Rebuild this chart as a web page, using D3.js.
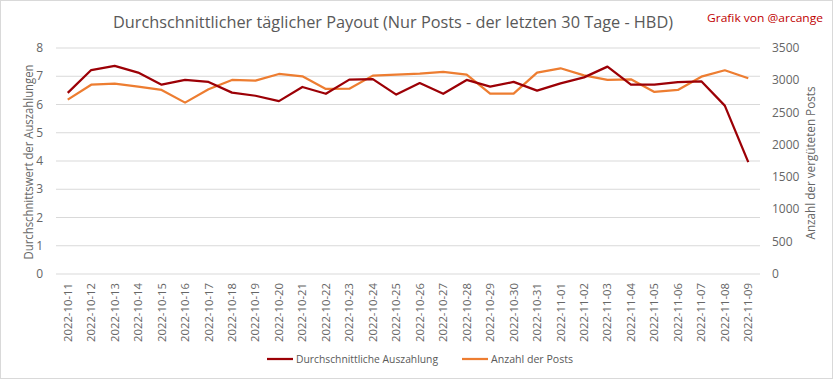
<!DOCTYPE html>
<html><head><meta charset="utf-8">
<script src="https://cdn.jsdelivr.net/npm/d3@7"></script>
<style>body{margin:0;background:#fff}svg{display:block}text{font-family:"Open Sans",sans-serif}</style>
</head><body><svg id="c" width="833" height="379"></svg>
<script>
const dates = ["2022-10-11","2022-10-12","2022-10-13","2022-10-14","2022-10-15","2022-10-16","2022-10-17","2022-10-18","2022-10-19","2022-10-20","2022-10-21","2022-10-22","2022-10-23","2022-10-24","2022-10-25","2022-10-26","2022-10-27","2022-10-28","2022-10-29","2022-10-30","2022-10-31","2022-11-01","2022-11-02","2022-11-03","2022-11-04","2022-11-05","2022-11-06","2022-11-07","2022-11-08","2022-11-09"];
const payout = [6.41,7.22,7.37,7.13,6.70,6.87,6.80,6.42,6.31,6.12,6.62,6.38,6.88,6.90,6.35,6.76,6.38,6.87,6.63,6.80,6.49,6.75,6.96,7.34,6.70,6.70,6.79,6.82,5.96,3.96];
const posts = [2700,2932,2948,2901,2850,2654,2861,3005,2994,3098,3062,2866,2870,3072,3087,3103,3129,3087,2793,2793,3119,3186,3077,3005,3015,2819,2850,3056,3155,3031];
const leftTicks = [0,1,2,3,4,5,6,7,8];
const rightTicks = [0,500,1000,1500,2000,2500,3000,3500];
const seriesNames = ["Durchschnittliche Auszahlung","Anzahl der Posts"];
const colors = ["#9c0006","#ed7d31"];

const svg = d3.select("#c");
svg.append("rect").attr("x",0.5).attr("y",0.5).attr("width",832).attr("height",378).attr("fill","#fff").attr("stroke","#d9d9d9");

const L=56, R=760, T=48, B=274;
const x = d3.scaleBand().domain(dates).range([L,R]);
const yL = d3.scaleLinear().domain([0,8]).range([B,T]);
const yR = d3.scaleLinear().domain([0,3500]).range([B,T]);

// gridlines
svg.append("g").selectAll("line").data(leftTicks).join("line")
  .attr("x1",L).attr("x2",R).attr("y1",d=>yL(d)).attr("y2",d=>yL(d))
  .attr("stroke","#d9d9d9").attr("stroke-width",1);

// left ticks
svg.append("g").selectAll("text").data(leftTicks).join("text")
  .attr("x",43).attr("y",d=>yL(d)+4).attr("text-anchor","end")
  .attr("font-size",12).attr("fill","#666").text(d=>d);
// right ticks
svg.append("g").selectAll("text").data(rightTicks).join("text")
  .attr("x",772).attr("y",d=>yR(d)+4).attr("text-anchor","start")
  .attr("font-size",12).attr("fill","#666").text(d=>d);

// x labels
svg.append("g").selectAll("text").data(dates).join("text")
  .attr("transform",d=>`translate(${x(d)+x.bandwidth()/2+4},283) rotate(-90)`)
  .attr("text-anchor","end").attr("font-size",11).attr("fill","#666")
  .attr("textLength",59).attr("lengthAdjust","spacingAndGlyphs").text(d=>d);

// axis titles
svg.append("text").attr("transform","translate(33,162) rotate(-90)").attr("text-anchor","middle")
  .attr("font-size",12).attr("fill","#666").attr("textLength",195).attr("lengthAdjust","spacingAndGlyphs")
  .text("Durchschnittswert der Auszahlungen");
svg.append("text").attr("transform","translate(815,163) rotate(-90)").attr("text-anchor","middle")
  .attr("font-size",12).attr("fill","#666").attr("textLength",153).attr("lengthAdjust","spacingAndGlyphs")
  .text("Anzahl der vergüteten  Posts");

// title
svg.append("text").attr("x",393).attr("y",28).attr("text-anchor","middle").attr("font-size",16)
  .attr("fill","#595959").attr("textLength",560).attr("lengthAdjust","spacingAndGlyphs")
  .text("Durchschnittlicher täglicher Payout (Nur Posts - der letzten 30 Tage - HBD)");
svg.append("text").attr("x",707).attr("y",22).attr("font-size",11).attr("fill","#c00000")
  .attr("textLength",116).attr("lengthAdjust","spacingAndGlyphs").text("Grafik von @arcange");

// lines
const cx = d=>x(d)+x.bandwidth()/2;
const lineL = d3.line().x((d,i)=>cx(dates[i])).y(d=>yL(d));
const lineR = d3.line().x((d,i)=>cx(dates[i])).y(d=>yR(d));
svg.append("path").attr("d",lineR(posts)).attr("fill","none").attr("stroke",colors[1]).attr("stroke-width",2.25).attr("stroke-linejoin","round");
svg.append("path").attr("d",lineL(payout)).attr("fill","none").attr("stroke",colors[0]).attr("stroke-width",2.25).attr("stroke-linejoin","round");

// legend
const leg = [{x:267,tw:142},{x:462,tw:82}];
leg.forEach((l,i)=>{
  svg.append("line").attr("x1",l.x).attr("x2",l.x+26).attr("y1",359).attr("y2",359).attr("stroke",colors[i]).attr("stroke-width",2.25);
  svg.append("text").attr("x",l.x+29).attr("y",363).attr("font-size",11).attr("fill","#595959")
    .attr("textLength",l.tw).attr("lengthAdjust","spacingAndGlyphs").text(seriesNames[i]);
});
</script></body></html>
